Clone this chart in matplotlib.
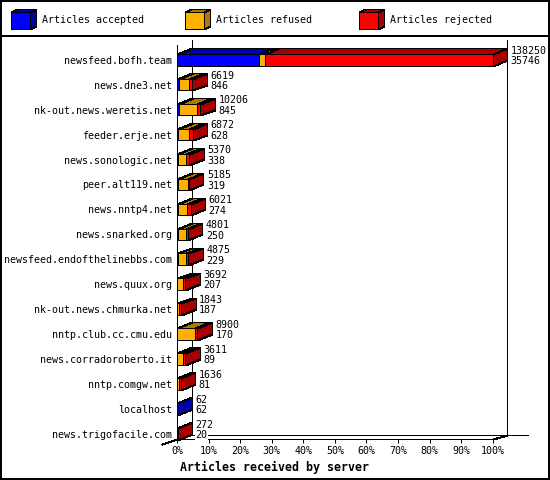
import matplotlib
matplotlib.use('Agg')
import matplotlib.pyplot as plt
from matplotlib.patches import Polygon, Rectangle

# ---------------- data ----------------
servers = ['newsfeed.bofh.team', 'news.dne3.net', 'nk-out.news.weretis.net',
           'feeder.erje.net', 'news.sonologic.net', 'peer.alt119.net',
           'news.nntp4.net', 'news.snarked.org', 'newsfeed.endofthelinebbs.com',
           'news.quux.org', 'nk-out.news.chmurka.net', 'nntp.club.cc.cmu.edu',
           'news.corradoroberto.it', 'nntp.comgw.net', 'localhost',
           'news.trigofacile.com']
accepted = [35746, 846, 845, 628, 338, 319, 274, 250, 229, 207, 187, 170, 89, 81, 62, 20]
refused = [2600, 4600, 7900, 4600, 3700, 4300, 4200, 3700, 3600, 2600, 900, 7500, 2700, 850, 0, 0]
rejected = [99904, 1173, 1461, 1644, 1332, 566, 1547, 851, 1046, 885, 756, 1230, 822, 705, 0, 252]
tick_values = [0, 10, 20, 30, 40, 50, 60, 70, 80, 90, 100]
tick_labels = ['0%', '10%', '20%', '30%', '40%', '50%', '60%', '70%', '80%', '90%', '100%']
legend_labels = ['Articles accepted', 'Articles refused', 'Articles rejected']
title = 'Articles received by server'

front_colors = ['#0000ff', '#ffb000', '#ff0000']
dark_colors = ['#0000a8', '#b07800', '#a80000']

MONO = 'DejaVu Sans Mono'
FS = 7.2

W, H = 550, 480
fig = plt.figure(figsize=(5.5, 4.8), dpi=100)

LW = 0.72  # one pixel

# background axes in pixel coordinates (frame, legend)
bg = fig.add_axes([0, 0, 1, 1])
bg.set_xlim(0, W)
bg.set_ylim(H, 0)
bg.axis('off')
bg.add_patch(Rectangle((1, 1), W - 2, H - 2, fill=False, ec='black', lw=1.44, antialiased=False, snap=True))
bg.plot([0, W], [35.5, 35.5], color='black', lw=1.44, antialiased=False, snap=True)

for k, lab in enumerate(legend_labels):
    x0 = 10.5 + 174 * k
    y0, s, hgt, d, dd = 11.5, 19, 17, 6, 3
    pkl = dict(ec='black', lw=LW, antialiased=False, snap=True)
    bg.add_patch(Polygon([(x0, y0), (x0 + s, y0), (x0 + s + d, y0 - dd), (x0 + d, y0 - dd)],
                         closed=True, fc=dark_colors[k], **pkl))
    bg.add_patch(Polygon([(x0 + s, y0), (x0 + s + d, y0 - dd), (x0 + s + d, y0 + hgt - dd), (x0 + s, y0 + hgt)],
                         closed=True, fc=dark_colors[k], **pkl))
    bg.add_patch(Rectangle((x0, y0), s, hgt, fc=front_colors[k], **pkl))
    bg.text(x0 + 32, 20, lab, fontsize=FS, family=MONO, va='center', ha='left')

# ---------------- main plot ----------------
X0, X1 = 177, 492.7
Y_TOP, Y_FLOOR = 35, 439
ROW0, ROW_STEP = 59.8, 24.93
n = len(servers)

ax = fig.add_axes([X0 / W, (H - Y_FLOOR) / H, (X1 - X0) / W, (Y_FLOOR - Y_TOP) / H])
ax.set_xlim(0, 100)
ax.set_ylim((Y_FLOOR - ROW0) / ROW_STEP, (Y_TOP - ROW0) / ROW_STEP)
for sp in ax.spines.values():
    sp.set_visible(False)
ax.patch.set_visible(False)

px_x = 100 / (X1 - X0)
px_y = 1 / ROW_STEP
DX = 14.5 * px_x
DY = -5.8 * px_y
BH = 11.5 * px_y

def ypx(p):
    return (p - ROW0) / ROW_STEP

# walls and floor
kw = dict(color='black', lw=LW, antialiased=False, snap=True, clip_on=False, zorder=1)
ax.plot([0, 0], [ypx(45), ypx(Y_FLOOR)], **kw)
ax.plot([DX, DX], [ypx(40), ypx(435)], **kw)
ax.plot([100 + DX, 100 + DX], [ypx(40), ypx(435)], **kw)
ax.plot([DX, (528 - X0) * px_x], [ypx(435), ypx(435)], **kw)
ax.plot([0, 100], [ypx(Y_FLOOR), ypx(Y_FLOOR)], **kw)
ax.plot([100, 100 + DX], [ypx(Y_FLOOR), ypx(435)], **kw)
ax.plot([-15 * px_x, 0], [ypx(444.3), ypx(Y_FLOOR)], **kw)

totals = [a + r + j for a, r, j in zip(accepted, refused, rejected)]
vmax = max(totals)

pk = dict(ec='black', lw=LW, antialiased=False, snap=True, clip_on=False, zorder=3)
for i in range(n):
    vals = [accepted[i], refused[i], rejected[i]]
    yt, yb = i - BH / 2, i + BH / 2
    left = 0.0
    last = None
    for k, v in enumerate(vals):
        if v <= 0:
            continue
        w = v / vmax * 100
        r = left + w
        ax.add_patch(Polygon([(left, yt), (r, yt), (r + DX, yt + DY), (left + DX, yt + DY)],
                             closed=True, fc=dark_colors[k], **pk))
        ax.add_patch(Rectangle((left, yt), w, BH, fc=front_colors[k], **pk))
        left = r
        last = k
    if last is not None:
        ax.add_patch(Polygon([(left, yt), (left + DX, yt + DY), (left + DX, yb + DY), (left, yb)],
                             closed=True, fc=dark_colors[last], **pk))
    tx = totals[i] / vmax * 100 + 18 * px_x
    tb = dict(fc='white', ec='none', pad=0.3)
    ax.text(tx, i - 9.2 * px_y, str(totals[i]), fontsize=FS, family=MONO,
            va='center', ha='left', clip_on=False, zorder=4, bbox=tb)
    ax.text(tx, i + 1.3 * px_y, str(accepted[i]), fontsize=FS, family=MONO,
            va='center', ha='left', clip_on=False, zorder=4, bbox=tb)

ax.set_yticks(range(n))
ax.set_yticklabels(servers, fontsize=FS, family=MONO)
ax.tick_params(axis='y', length=0, pad=3.6)
ax.set_xticks(tick_values)
ax.set_xticklabels(tick_labels, fontsize=FS, family=MONO)
ax.tick_params(axis='x', length=3.2, width=LW, direction='out', pad=2.2)

bg.text(180, 467, title, fontsize=8.4, family=MONO, fontweight='bold', va='center', ha='left')

fig.savefig('out.png', dpi=100)
